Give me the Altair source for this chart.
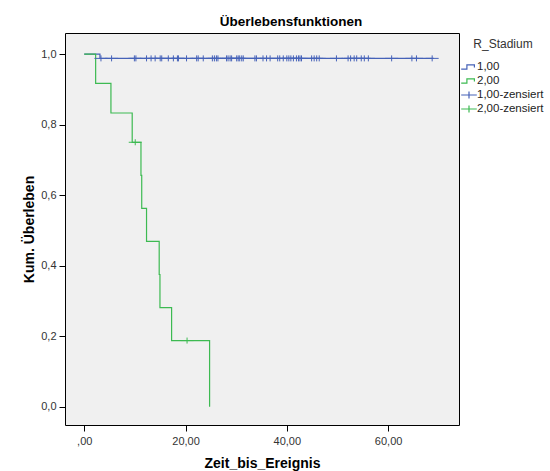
import altair as alt
import pandas as pd

# ---- data ----
green_times = [0, 2.25, 5.27, 9.47, 11.2, 11.35, 12.3, 14.8, 14.95, 17.25, 24.75]
green_surv = [1.0, 0.917, 0.833, 0.75, 0.656, 0.5625, 0.469, 0.375, 0.281, 0.1875, 0.0]

blue_times = [0, 3.1, 69.0]
blue_surv = [1.0, 0.988, 0.988]

blue_cens_times = [3.3, 5.4, 9.9, 10.2, 12.3, 13.2, 14.0, 15.0, 15.3, 16.6, 17.6, 18.4,
                   18.6, 20.2, 22.2, 22.5, 23.5, 25.3, 25.7, 26.1, 26.4, 28.1, 28.4, 28.8,
                   29.1, 30.1, 30.4, 30.7, 31.1, 31.4, 33.7, 34.0, 35.3, 36.0, 36.7, 38.2,
                   38.6, 39.3, 40.0, 40.4, 40.8, 41.3, 41.9, 42.3, 42.6, 42.9, 44.9, 45.4,
                   45.9, 46.4, 49.8, 52.1, 52.6, 53.3, 53.8, 54.7, 55.3, 56.1, 60.7, 64.7,
                   65.6, 68.7]
blue_cens_surv = 0.988

green_cens_times = [10.07, 20.3]
green_cens_surv = [0.75, 0.1875]

groups = ["1,00", "2,00", "1,00-zensiert", "2,00-zensiert"]
BLUE = "#4662B8"
GREEN = "#3DBA52"
colors = [BLUE, GREEN, BLUE, GREEN]

# ---- tables ----
blue_df = pd.DataFrame({"t": blue_times, "s": blue_surv})
green_df = pd.DataFrame({"t": green_times, "s": green_surv})

cens = pd.DataFrame({"t": blue_cens_times, "s": blue_cens_surv, "grp": "1,00-zensiert"})
cens = pd.concat([cens, pd.DataFrame({"t": green_cens_times, "s": green_cens_surv,
                                      "grp": "2,00-zensiert"})])

step_path = "M-1.3,0.35H-0.35V-0.35H0.9V0.1"
plus_path = "M-1.3,0H1.3M0,-0.6V0.6"
shapes = [step_path, step_path, plus_path, plus_path]

FONT = "Liberation Sans"

xscale = alt.Scale(domain=[-3.8, 74], nice=False, zero=False)
yscale = alt.Scale(domain=[-0.052, 1.06], nice=False, zero=False)

xaxis = alt.Axis(values=[0, 20, 40, 60], title="Zeit_bis_Ereignis", grid=False, domain=False,
                 labelExpr="datum.value == 0 ? ',00' : replace(format(datum.value, '.2f'), '.', ',')")
yaxis = alt.Axis(values=[0, 0.2, 0.4, 0.6, 0.8, 1.0], title="Kum. Überleben", grid=False, domain=False,
                 labelExpr="replace(format(datum.value, '.1f'), '.', ',')")

blue_line = alt.Chart(blue_df).mark_line(interpolate="step-after", strokeWidth=1.2, color=BLUE).encode(
    x=alt.X("t:Q", scale=xscale, axis=xaxis),
    y=alt.Y("s:Q", scale=yscale, axis=yaxis),
    order=alt.Order("t:Q"),
)
green_line = alt.Chart(green_df).mark_line(interpolate="step-after", strokeWidth=1.2, color=GREEN).encode(
    x=alt.X("t:Q", scale=xscale),
    y=alt.Y("s:Q", scale=yscale),
    order=alt.Order("t:Q"),
)

legend = alt.Legend(title="R_Stadium", orient="none", legendX=397, legendY=6,
                    symbolSize=144, labelOffset=1, titleAnchor="middle",
                    titlePadding=9, rowPadding=1, symbolStrokeWidth=1.2)

cens_layer = alt.Chart(cens).mark_point(filled=False, size=100, strokeWidth=1, opacity=1).encode(
    x=alt.X("t:Q", scale=xscale),
    y=alt.Y("s:Q", scale=yscale),
    color=alt.Color("grp:N", scale=alt.Scale(domain=groups, range=colors), legend=legend),
    shape=alt.Shape("grp:N", scale=alt.Scale(domain=groups, range=shapes), legend=legend),
)

chart = alt.layer(blue_line, green_line, cens_layer).properties(
    width=394, height=392,
    background="#FFFFFF",
    title=alt.TitleParams("Überlebensfunktionen", anchor="middle", dx=29, offset=5,
                          fontSize=13.5, fontWeight="bold", font=FONT, color="#000000"),
    padding={"left": 65, "top": 33, "right": 91, "bottom": 46},
    autosize=alt.AutoSizeParams(type="none"),
).configure_view(
    fill="#F0F0F0", stroke="#000000", strokeWidth=1
).configure_axis(
    domain=False, grid=False, tickColor="#000000", tickSize=6, tickWidth=1,
    labelFont=FONT, labelFontSize=11, labelColor="#333333",
    titleFont=FONT, titleFontSize=14, titleFontWeight="bold", titleColor="#000000",
).configure_axisX(
    labelPadding=4, titlePadding=10
).configure_axisY(
    labelPadding=3, titlePadding=4
).configure_legend(
    labelFont=FONT, labelFontSize=11.5, labelColor="#222222",
    titleFont=FONT, titleFontSize=12, titleFontWeight="normal", titleColor="#333333",
)

chart.save("out.html", embed_options={"renderer": "svg", "actions": False})
